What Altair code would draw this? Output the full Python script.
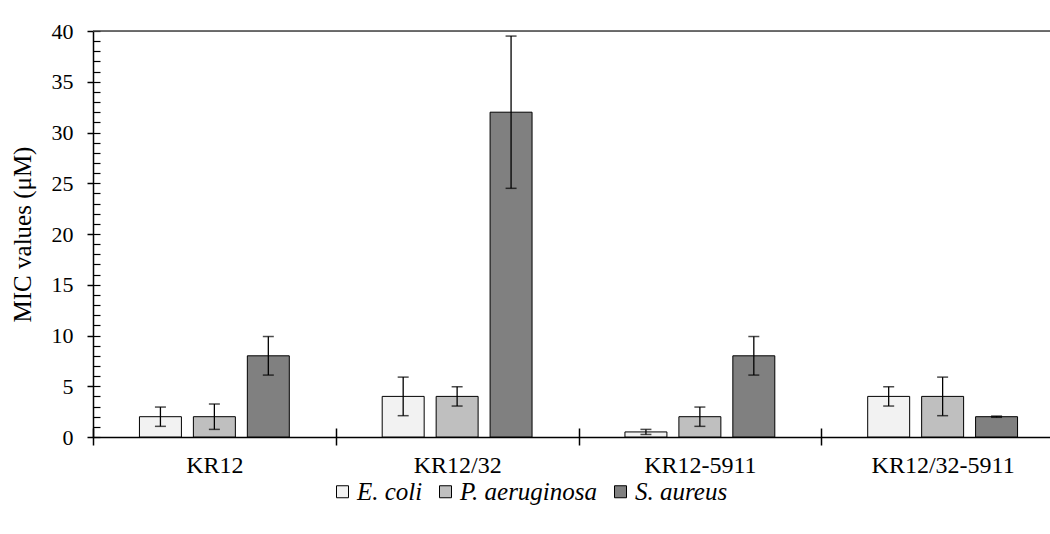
import altair as alt
import pandas as pd

compounds = ["KR12", "KR12/32", "KR12-5911", "KR12/32-5911"]
bacteria = ["E. coli", "P. aeruginosa", "S. aureus"]
ecoli = [2, 4, 0.5, 4]
ecoli_err = [0.95, 1.9, 0.25, 0.95]
paer = [2, 4, 2, 4]
paer_err = [1.25, 0.95, 0.95, 1.9]
saur = [8, 32, 8, 2]
saur_err = [1.9, 7.5, 1.9, 0.06]
colors = ["#f2f2f2", "#bfbfbf", "#808080"]
y_major = list(range(0, 41, 5))
y_minor = list(range(0, 41))
top_value = [40]

rows = []
for vals, errs, name in zip([ecoli, paer, saur], [ecoli_err, paer_err, saur_err], bacteria):
    for c, v, e in zip(compounds, vals, errs):
        rows.append({"compound": c, "bacteria": name, "value": v, "lo": v - e, "hi": v + e})
df = pd.DataFrame(rows)

FONT = "Liberation Serif"
W, H = 957, 406
FULL = 971

xscale = alt.Scale(domain=compounds, range=[0, FULL], paddingInner=0, paddingOuter=0)
offscale = alt.Scale(domain=bacteria, paddingInner=0.222, paddingOuter=0.861)
yscale = alt.Scale(domain=[0, 40], nice=False)

base = alt.Chart(df)
xoff = alt.XOffset("bacteria:N", scale=offscale, sort=bacteria)

bars = base.mark_bar(stroke="black", strokeWidth=1).encode(
    x=alt.X("compound:N", scale=xscale, sort=compounds,
            axis=alt.Axis(title=None, labelAngle=0, tickBand="extent", tickSize=8,
                          labelPadding=8, domainColor="black", tickColor="black",
                          labelFont=FONT, labelFontSize=24, labelColor="black",
                          domainWidth=1.5, tickWidth=1.5)),
    xOffset=xoff,
    y=alt.Y("value:Q", scale=yscale,
            axis=alt.Axis(values=y_major, title="MIC values (μM)", tickSize=6,
                          labelPadding=14, domainColor="black", tickColor="black",
                          labelFont=FONT, labelFontSize=22, labelColor="black",
                          titleFont=FONT, titleFontSize=25, titleFontWeight="normal",
                          titleColor="black", titlePadding=16, grid=False,
                          domainWidth=1.5, tickWidth=1.5)),
    color=alt.Color("bacteria:N", scale=alt.Scale(domain=bacteria, range=colors),
                    legend=alt.Legend(title=None, orient="none", legendX=237, legendY=448,
                                      direction="horizontal", symbolType="square",
                                      symbolSize=144, symbolStrokeColor="black",
                                      symbolStrokeWidth=1, labelFont=FONT,
                                      labelFontStyle="italic", labelFontSize=25,
                                      labelColor="black", columnPadding=10, labelOffset=2)),
)

err = base.mark_rule(color="black", strokeWidth=1.3).encode(
    x=alt.X("compound:N", scale=xscale, sort=compounds,
            axis=alt.Axis(orient="bottom", offset=-9, tickSize=9, labels=False, domain=False,
                          title=None, tickBand="extent", tickColor="black", tickWidth=1.5)),
    xOffset=xoff,
    y=alt.Y("lo:Q", scale=yscale,
            axis=alt.Axis(orient="left", offset=-7, values=y_minor, tickSize=7, labels=False,
                          domain=False, title=None, tickColor="black", grid=False, tickWidth=1.2)),
    y2="hi:Q",
)

cap_lo = base.mark_tick(color="black", size=11, thickness=1.5).encode(
    x=alt.X("compound:N", scale=xscale, sort=compounds, axis=None),
    xOffset=xoff,
    y=alt.Y("lo:Q", scale=yscale, axis=None),
)
cap_hi = base.mark_tick(color="black", size=11, thickness=1.5).encode(
    x=alt.X("compound:N", scale=xscale, sort=compounds, axis=None),
    xOffset=xoff,
    y=alt.Y("hi:Q", scale=yscale, axis=None),
)

top = alt.Chart(pd.DataFrame({"v": top_value})).mark_rule(color="#404040", strokeWidth=1.5).encode(
    y=alt.Y("v:Q", scale=yscale, axis=None),
)

chart = alt.layer(bars, err, cap_lo, cap_hi, top).resolve_axis(
    x="independent", y="independent"
).properties(
    width=W, height=H,
    autosize=alt.AutoSizeParams(type="none"),
    padding={"left": 93, "top": 31, "right": 0, "bottom": 97},
).configure_view(stroke=None).configure(
    background="white", font=FONT
).configure_axis(labelFont=FONT, titleFont=FONT).configure_legend(labelFont=FONT)

chart.save("out.html", embed_options={"renderer": "svg", "actions": False})
